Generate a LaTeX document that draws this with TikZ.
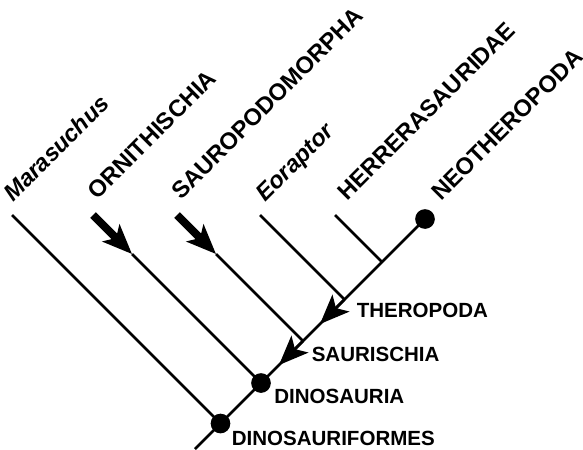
\documentclass[tikz,border=0pt]{standalone}
\usepackage{fontspec}
\setmainfont{Liberation Sans}
\usetikzlibrary{arrows.meta}
\begin{document}
\begin{tikzpicture}[x=0.025cm,y=-0.025cm,
  branch/.style={line width=1.9pt},
  shaft/.style={line width=5.7pt},
  headarrow/.style={-{Stealth[length=21pt,width=17pt,inset=5pt]}},
  dot/.style={circle,fill,inner sep=0pt,minimum size=14pt},
  taxon/.style={anchor=base west,inner sep=0pt,rotate=45,font=\fontsize{16.8}{20}\selectfont\bfseries},
  clade/.style={anchor=base west,inner sep=0pt,font=\fontsize{14.6}{17}\selectfont\bfseries}]
\useasboundingbox (0,0) rectangle (583,449);
% points on the main line
\coordinate (root) at (195,449);
\coordinate (dsf) at (220.5,423.5);
\coordinate (dino) at (261,383);
\coordinate (saur) at (303,341);
\coordinate (thero) at (344.5,299.5);
\coordinate (herj) at (382,262);
\coordinate (saurtip) at (279,365);
\coordinate (therotip) at (320,324);
% branch ends
\coordinate (mara) at (12,215);
\coordinate (orni) at (93,215);
\coordinate (ornitip) at (132,254);
\coordinate (sauro) at (177,215);
\coordinate (saurotip) at (216,254);
\coordinate (eora) at (260,215);
\coordinate (herr) at (335,215);
\draw[branch] (root) -- (425,219) node[dot] (neo) {};
\draw[branch] (mara) -- (dsf);
\draw[shaft,headarrow] (orni) -- (ornitip);
\draw[branch] (ornitip) -- (dino);
\draw[shaft,headarrow] (sauro) -- (saurotip);
\draw[branch] (saurotip) -- (saur);
\draw[branch] (eora) -- (thero);
\draw[branch] (herr) -- (herj);
\draw[branch,headarrow] (saur) -- (saurtip);
\draw[branch,headarrow] (thero) -- (therotip);
\node[dot] (dsfdot) at (dsf) {};
\node[dot] (dinodot) at (dino) {};
% taxa
\node[taxon] (maral) at (13,203) {\itshape Marasuchus};
\node[taxon] (ornil) at (97,201) {ORNITHISCHIA};
\node[taxon] (saurol) at (181,201) {SAUROPODOMORPHA};
\node[taxon] (eoral) at (265,203) {\itshape Eoraptor};
\node[taxon] (herrl) at (347,202) {HERRERASAURIDAE};
\node[taxon] (neol) at (441,202) {NEOTHEROPODA};
% clades
\node[clade] (therol) at (356.5,317.5) {THEROPODA};
\node[clade] (saurl) at (311.5,361.5) {SAURISCHIA};
\node[clade] (dinol) at (274,403.5) {DINOSAURIA};
\node[clade] (dsfl) at (231.5,445) {DINOSAURIFORMES};
\end{tikzpicture}
\end{document}
